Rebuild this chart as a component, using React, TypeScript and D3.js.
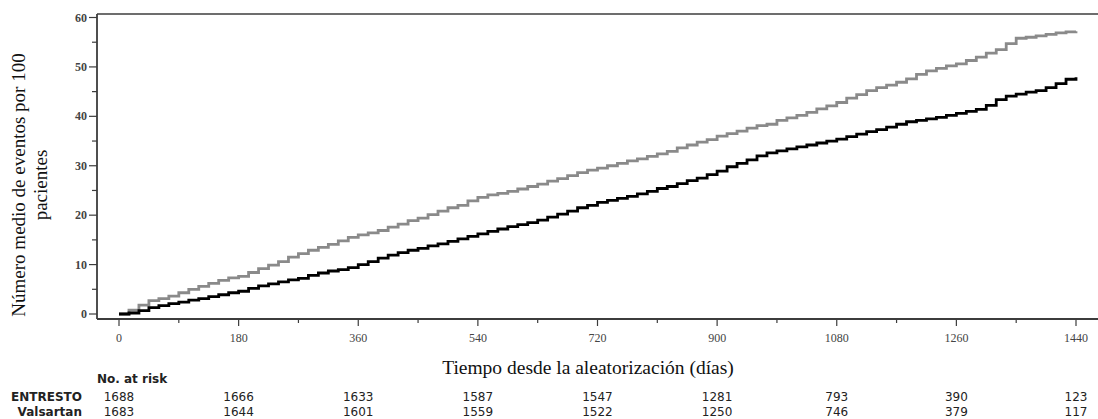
import React, { useEffect, useRef } from "react";
import * as d3 from "d3";

// days every 15 days, 0..1440
const days: number[] = d3.range(0, 1441, 15);

const valsartan: number[] = [
  0, 0.8, 1.8, 2.7, 3.1, 3.6, 4.3, 5.0, 5.6, 6.2, 6.8, 7.3, 7.6, 8.4, 9.2, 9.9,
  10.6, 11.5, 12.2, 12.9, 13.5, 14.1, 14.8, 15.5, 16.0, 16.4, 16.9, 17.6, 18.2,
  18.9, 19.4, 20.1, 20.8, 21.5, 22.0, 22.9, 23.6, 24.1, 24.4, 24.8, 25.3, 25.8,
  26.3, 26.9, 27.4, 28.0, 28.6, 29.1, 29.5, 30.0, 30.5, 31.0, 31.4, 31.9, 32.4,
  32.9, 33.6, 34.2, 34.8, 35.3, 36.0, 36.5, 37.0, 37.6, 38.1, 38.4, 39.2, 39.7,
  40.2, 40.8, 41.5, 42.1, 42.8, 43.7, 44.4, 45.2, 45.8, 46.3, 46.9, 47.6, 48.5,
  49.2, 49.7, 50.2, 50.6, 51.3, 52.0, 52.8, 53.5, 54.7, 55.8, 56.0, 56.3, 56.6,
  56.9, 57.1, 57.2,
];

const entresto: number[] = [
  0, 0.2, 0.7, 1.3, 1.7, 2.1, 2.4, 2.8, 3.1, 3.5, 3.9, 4.3, 4.6, 5.2, 5.7, 6.1,
  6.5, 6.9, 7.2, 7.8, 8.3, 8.7, 9.0, 9.4, 10.0, 10.6, 11.3, 11.9, 12.4, 12.9,
  13.3, 13.8, 14.2, 14.7, 15.2, 15.7, 16.2, 16.7, 17.2, 17.7, 18.1, 18.5, 19.0,
  19.6, 20.2, 20.8, 21.5, 22.0, 22.6, 23.0, 23.4, 23.8, 24.3, 24.8, 25.4, 25.8,
  26.4, 27.0, 27.5, 28.2, 28.9, 29.8, 30.5, 31.2, 32.0, 32.6, 33.0, 33.4, 33.8,
  34.2, 34.6, 35.0, 35.4, 35.9, 36.4, 36.9, 37.3, 37.8, 38.4, 38.9, 39.2, 39.5,
  39.8, 40.2, 40.6, 41.0, 41.4, 42.2, 43.4, 44.1, 44.5, 44.9, 45.2, 45.8, 46.6,
  47.5, 47.9,
];

const xTicks: number[] = [0, 180, 360, 540, 720, 900, 1080, 1260, 1440];
const yTicks: number[] = [0, 10, 20, 30, 40, 50, 60];

const riskGroups: string[] = ["ENTRESTO", "Valsartan"];
const riskEntresto: number[] = [1688, 1666, 1633, 1587, 1547, 1281, 793, 390, 123];
const riskValsartan: number[] = [1683, 1644, 1601, 1559, 1522, 1250, 746, 379, 117];

const W = 1098;
const H = 419;

export default function App() {
  const ref = useRef<SVGSVGElement>(null);

  useEffect(() => {
    const svg = d3.select(ref.current);
    svg.selectAll("*").remove();

    const left = 97;
    const top = 14;
    const bottom = 319;

    const x = d3.scaleLinear().domain([0, 1440]).range([119, 1076]);
    const y = d3.scaleLinear().domain([0, 60]).range([314, 17.5]);

    const axisColor = "#3c3c3c";
    const serif = "'Liberation Serif', 'Times New Roman', serif";
    const sans = "'DejaVu Sans', Verdana, sans-serif";

    // frame
    svg.append("line").attr("x1", left).attr("x2", W).attr("y1", top).attr("y2", top)
      .attr("stroke", axisColor).attr("stroke-width", 1.6);
    svg.append("line").attr("x1", left).attr("x2", left).attr("y1", top).attr("y2", bottom)
      .attr("stroke", axisColor).attr("stroke-width", 1.8);
    svg.append("line").attr("x1", left).attr("x2", W).attr("y1", bottom).attr("y2", bottom)
      .attr("stroke", axisColor).attr("stroke-width", 1.8);

    // y axis
    const yMinor = d3.range(5, 60, 10);
    svg.append("g").selectAll("line").data(yMinor).enter().append("line")
      .attr("x1", left - 5).attr("x2", left).attr("y1", d => y(d)).attr("y2", d => y(d))
      .attr("stroke", axisColor).attr("stroke-width", 1.2);
    svg.append("g").selectAll("line").data(yTicks).enter().append("line")
      .attr("x1", left - 8).attr("x2", left).attr("y1", d => y(d)).attr("y2", d => y(d))
      .attr("stroke", axisColor).attr("stroke-width", 1.2);
    svg.append("g").selectAll("text").data(yTicks).enter().append("text")
      .attr("x", left - 10).attr("y", d => y(d) + 4)
      .attr("text-anchor", "end").attr("font-family", serif).attr("font-size", 12)
      .attr("font-weight", "bold").attr("fill", "#444").text(d => d);

    // x axis
    const xMinor = d3.range(90, 1440, 180);
    svg.append("g").selectAll("line").data(xMinor).enter().append("line")
      .attr("x1", d => x(d)).attr("x2", d => x(d)).attr("y1", bottom).attr("y2", bottom + 4)
      .attr("stroke", axisColor).attr("stroke-width", 1.2);
    svg.append("g").selectAll("line").data(xTicks).enter().append("line")
      .attr("x1", d => x(d)).attr("x2", d => x(d)).attr("y1", bottom).attr("y2", bottom + 7)
      .attr("stroke", axisColor).attr("stroke-width", 1.2);
    svg.append("g").selectAll("text").data(xTicks).enter().append("text")
      .attr("x", d => x(d)).attr("y", 342)
      .attr("text-anchor", "middle").attr("font-family", serif).attr("font-size", 12)
      .attr("fill", "#444").text(d => d);

    // axis titles
    svg.append("text").attr("x", 588).attr("y", 374)
      .attr("text-anchor", "middle").attr("font-family", serif).attr("font-size", 19.5)
      .attr("fill", "#111").text("Tiempo desde la aleatorización (días)");

    const yt = svg.append("text").attr("transform", "translate(25,185) rotate(-90)")
      .attr("text-anchor", "middle").attr("font-family", serif).attr("font-size", 19)
      .attr("fill", "#111");
    yt.append("tspan").attr("x", 0).attr("y", 0).text("Número medio de eventos por 100");
    yt.append("tspan").attr("x", 0).attr("y", 22).text("pacientes");

    // curves
    const line = d3.line<number>()
      .x((_, i) => x(days[i]))
      .y(d => y(d))
      .curve(d3.curveStepAfter);

    svg.append("path").datum(valsartan).attr("d", line)
      .attr("fill", "none").attr("stroke", "#8a8a8a").attr("stroke-width", 2.8);
    svg.append("path").datum(entresto).attr("d", line)
      .attr("fill", "none").attr("stroke", "#000").attr("stroke-width", 2.8);

    // risk table
    svg.append("text").attr("x", left).attr("y", 383)
      .attr("font-family", sans).attr("font-size", 12).attr("font-weight", "bold")
      .attr("fill", "#222").text("No. at risk");

    const rows = [riskEntresto, riskValsartan];
    const rowY = [401, 416];
    rows.forEach((vals, r) => {
      svg.append("text").attr("x", 82).attr("y", rowY[r])
        .attr("text-anchor", "end").attr("font-family", sans).attr("font-size", 12)
        .attr("font-weight", "bold").attr("fill", "#222").text(riskGroups[r]);
      svg.append("g").selectAll("text").data(vals).enter().append("text")
        .attr("x", (_, i) => x(xTicks[i])).attr("y", rowY[r])
        .attr("text-anchor", "middle").attr("font-family", sans).attr("font-size", 12)
        .attr("fill", "#222").text(d => d);
    });
  }, []);

  return (
    <svg
      ref={ref}
      width={W}
      height={H}
      style={{ position: "absolute", left: 0, top: 0, background: "#fff" }}
    />
  );
}
